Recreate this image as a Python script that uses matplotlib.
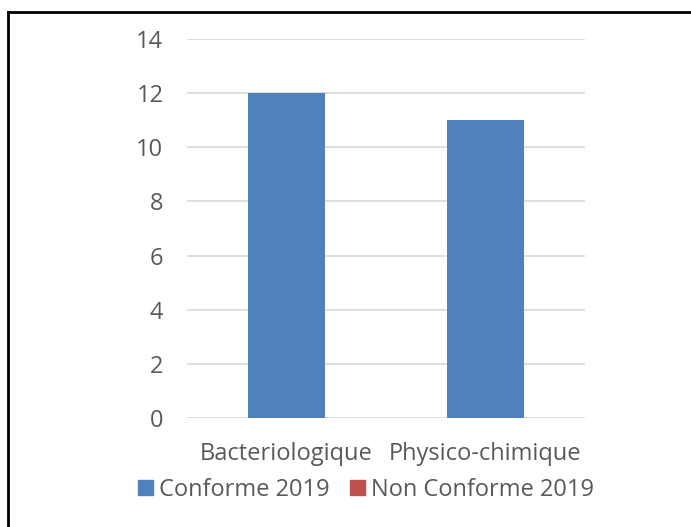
import matplotlib.pyplot as plt
from matplotlib.lines import Line2D
from matplotlib.patches import Patch

categories = ['Bacteriologique', 'Physico-chimique']
conforme_2019 = [12, 11]
non_conforme_2019 = [0, 0]
yticks = [0, 2, 4, 6, 8, 10, 12, 14]

plt.rcParams['font.family'] = ['Open Sans', 'DejaVu Sans']
txt = '#595959'

fig = plt.figure(figsize=(6.91, 5.27), dpi=100)
W, H = 691, 527
ax = fig.add_axes([187 / W, 1 - 418 / H, (585 - 187) / W, (418 - 39) / H])

x = range(len(categories))
ax.bar(x, conforme_2019, width=0.39, color='#4f81bd', zorder=3)
ax.bar(x, non_conforme_2019, bottom=conforme_2019, width=0.39, color='#c0504d', zorder=3)

ax.set_xlim(-0.5, 1.5)
ax.set_ylim(0, 14)
ax.set_yticks(yticks)
ax.yaxis.grid(True, color='#d9d9d9', linewidth=1.2)
ax.set_axisbelow(True)
for s in ax.spines.values():
    s.set_visible(False)
ax.tick_params(axis='y', length=0, pad=17, labelsize=17, labelcolor=txt)
ax.tick_params(axis='x', length=0, pad=17, labelsize=17, labelcolor=txt)
ax.set_xticks(list(x))
ax.set_xticklabels(categories)

handles = [Patch(color='#4f81bd', label='Conforme 2019'),
           Patch(color='#c0504d', label='Non Conforme 2019')]
leg = fig.legend(handles=handles, loc='center', bbox_to_anchor=(366 / W, 1 - 490 / H),
                 ncol=2, frameon=False, fontsize=17, handlelength=0.6, handleheight=0.6,
                 handletextpad=0.25, columnspacing=0.9)
for t in leg.get_texts():
    t.set_color(txt)

# frame around the chart
fig.add_artist(Line2D([7.5 / W, 7.5 / W], [0, 1 - 11.5 / H], color='black', linewidth=2))
fig.add_artist(Line2D([7.5 / W, 1], [1 - 11.5 / H, 1 - 11.5 / H], color='black', linewidth=2))

fig.savefig('out.png', dpi=100)
